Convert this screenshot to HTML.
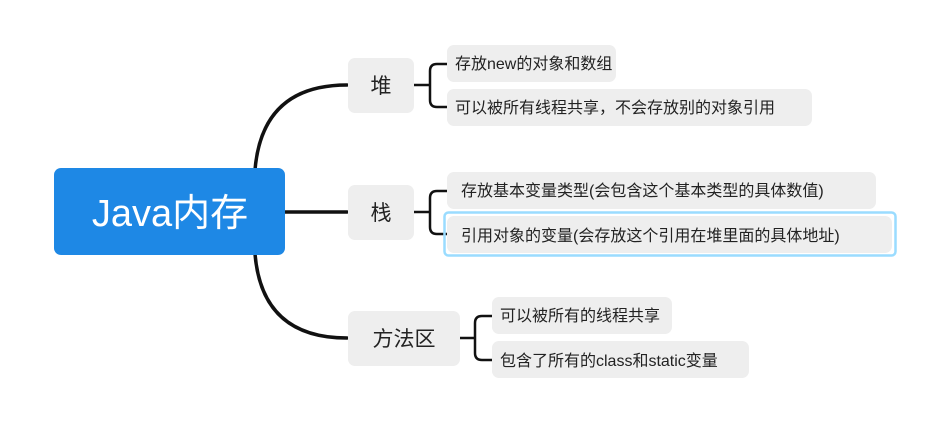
<!DOCTYPE html>
<html><head><meta charset="utf-8"><style>
html,body{margin:0;padding:0;background:#fff;}
svg text{font-family:"Liberation Sans","Noto Sans CJK SC",sans-serif;}
</style></head><body>
<svg width="948" height="418" viewBox="0 0 948 418" xmlns="http://www.w3.org/2000/svg">
<g fill="none" stroke="#111" stroke-width="3.5" stroke-linecap="round">
<path d="M255 170 Q262 85 347 85"/>
<path d="M285 212 L347 212"/>
<path d="M255 254 Q262 338 347 338"/>
</g>
<g fill="none" stroke="#111" stroke-width="2.5">
<path d="M414 85 L430 85 M447 64 L437 64 Q430 64 430 71 L430 100 Q430 107 437 107 L447 107"/>
<path d="M414 212 L430 212 M447 191 L437 191 Q430 191 430 198 L430 227 Q430 234 437 234 L447 234"/>
<path d="M460 338 L475 338 M492 316 L482 316 Q475 316 475 323 L475 353 Q475 360 482 360 L492 360"/>
</g>
<rect x="54" y="168" width="231" height="87" rx="7" fill="#1e88e5"/>
<text x="170" y="226" font-size="38" fill="#fff" text-anchor="middle">Java内存</text>
<g fill="#eeeeee">
<rect x="348" y="58" width="66" height="55" rx="7"/>
<rect x="348" y="185" width="66" height="55" rx="7"/>
<rect x="348" y="311" width="112" height="55" rx="7"/>
<rect x="447" y="45" width="169" height="37" rx="7"/>
<rect x="447" y="89" width="365" height="37" rx="7"/>
<rect x="447" y="172" width="429" height="37" rx="7"/>
<rect x="447" y="216" width="445" height="37" rx="7"/>
<rect x="492" y="297" width="180" height="37" rx="7"/>
<rect x="492" y="341" width="257" height="37" rx="7"/>
</g>
<rect x="444.5" y="212.5" width="451" height="43" rx="4" fill="none" stroke="#9adcff" stroke-width="2.5"/>
<g fill="#222" font-size="21" text-anchor="middle">
<text x="381" y="93">堆</text>
<text x="381" y="220">栈</text>
<text x="404" y="346">方法区</text>
</g>
<g fill="#222" font-size="16">
<text x="455" y="69">存放new的对象和数组</text>
<text x="455" y="113">可以被所有线程共享，不会存放别的对象引用</text>
<text x="461" y="196">存放基本变量类型(会包含这个基本类型的具体数值)</text>
<text x="461" y="241">引用对象的变量(会存放这个引用在堆里面的具体地址)</text>
<text x="500" y="321">可以被所有的线程共享</text>
<text x="500" y="366">包含了所有的class和static变量</text>
</g>
</svg>
</body></html>
